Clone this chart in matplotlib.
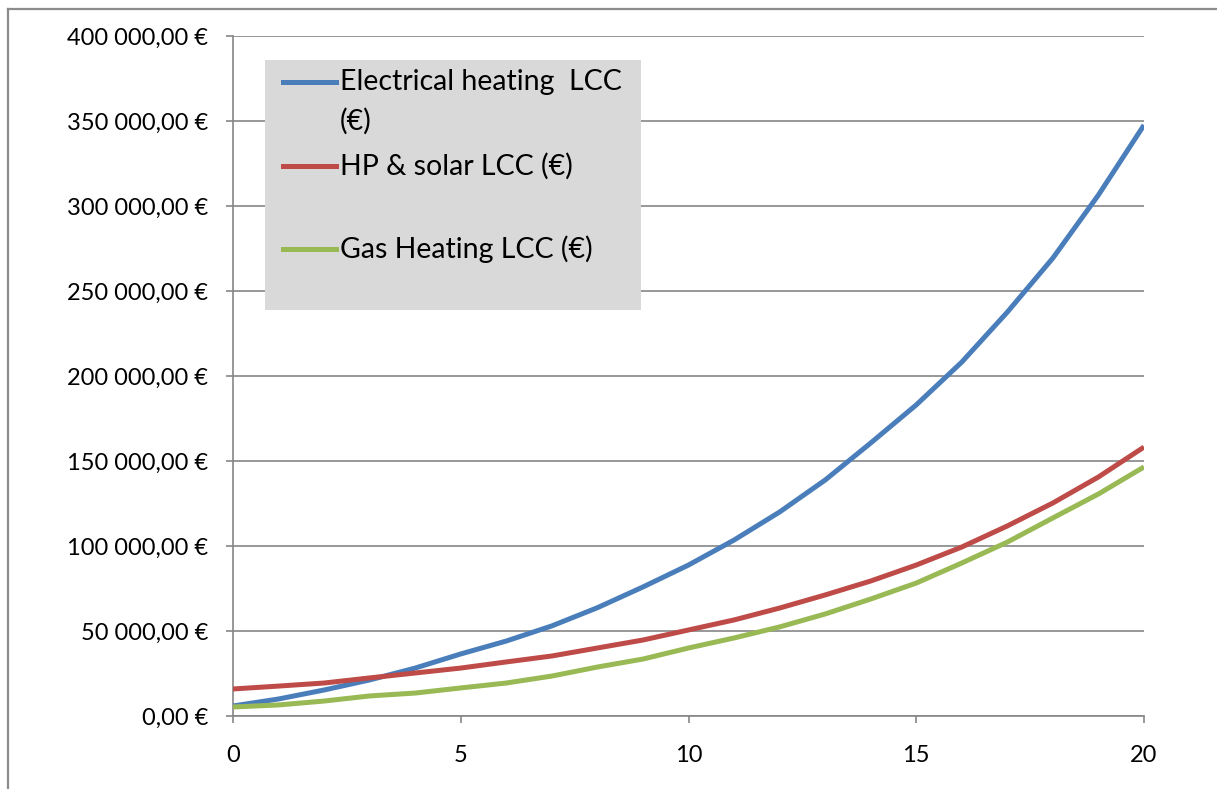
import matplotlib
matplotlib.use("Agg")
import matplotlib.pyplot as plt
from matplotlib.patches import Rectangle
from matplotlib.lines import Line2D
from matplotlib.ticker import FuncFormatter, MultipleLocator

plt.rcParams["font.family"] = ["Lato", "DejaVu Sans"]

# years
years = list(range(0, 21))

# values (EUR)
electricalLcc = [5900, 10000, 15300, 21200, 28200, 36500, 44100, 53000, 63700, 75900,
                 88800, 103500, 120000, 138800, 160600, 183000, 208200, 237600, 269400,
                 306500, 347600]
hpSolarLcc = [15900, 17600, 19400, 22400, 25300, 28200, 31800, 35300, 40000, 44700,
              50600, 56500, 63500, 71200, 79400, 88800, 99400, 111800, 125300, 140600,
              158200]
gasLcc = [5300, 6500, 8800, 11800, 13500, 16500, 19400, 23500, 28800, 33500, 40000,
          45900, 52400, 60000, 68800, 78200, 90000, 102300, 116500, 130600, 146500]

seriesNames = ["Electrical heating  LCC\n(€)", "HP & solar LCC (€)", "Gas Heating LCC (€)"]
seriesColors = ["#4a7ebb", "#be4b48", "#98b954"]

fig = plt.figure(figsize=(12.17, 7.89), dpi=100)
ax = fig.add_axes([233 / 1217, 1 - 716 / 789, (1144 - 233) / 1217, (716 - 36) / 789])

for vals, col in zip([electricalLcc, hpSolarLcc, gasLcc], seriesColors):
    ax.plot(years, vals, color=col, linewidth=3.6, solid_capstyle="butt", zorder=3)

ax.set_xlim(0, 20)
ax.set_ylim(0, 400000)
ax.xaxis.set_major_locator(MultipleLocator(5))
ax.yaxis.set_major_locator(MultipleLocator(50000))


def euro(v, pos):
    return f"{v:,.2f}".replace(",", " ").replace(".", ",") + " €"


ax.yaxis.set_major_formatter(FuncFormatter(euro))
ax.grid(axis="y", color="#868686", linewidth=1.2, zorder=0)
for s in ["top", "right"]:
    ax.spines[s].set_visible(False)
for s in ["left", "bottom"]:
    ax.spines[s].set_color("#868686")
    ax.spines[s].set_linewidth(1.2)
ax.tick_params(axis="y", length=5, width=1.2, color="#868686", pad=13, labelsize=17)
ax.tick_params(axis="x", length=5, width=1.2, color="#868686", pad=16, labelsize=17)

# legend box, drawn by hand to match the original layout
ax.add_patch(Rectangle((0.035, 0.597), 0.413, 0.368, transform=ax.transAxes,
                       facecolor="#d9d9d9", edgecolor="none", zorder=4))
legendRows = [0.932, 0.809, 0.687]
for name, col, ly in zip(seriesNames, seriesColors, legendRows):
    ax.add_line(Line2D([0.055, 0.113], [ly, ly], transform=ax.transAxes, color=col,
                       linewidth=3.6, zorder=5))
    first, *rest = name.split("\n")
    ax.text(0.1175, ly, first, transform=ax.transAxes, va="center", ha="left",
            fontsize=20.5, zorder=6)
    if rest:
        ax.text(0.1175, ly - 0.057, rest[0], transform=ax.transAxes, va="center",
                ha="left", fontsize=20.5, zorder=6)

# outer chart border (top and left only visible)
fig.add_artist(Line2D([8 / 1217, 1], [1 - 9 / 789, 1 - 9 / 789], color="#8c8c8c",
                      linewidth=1.6))
fig.add_artist(Line2D([8 / 1217, 8 / 1217], [0, 1 - 9 / 789], color="#8c8c8c",
                      linewidth=1.6))

fig.savefig("out.png", dpi=100)
